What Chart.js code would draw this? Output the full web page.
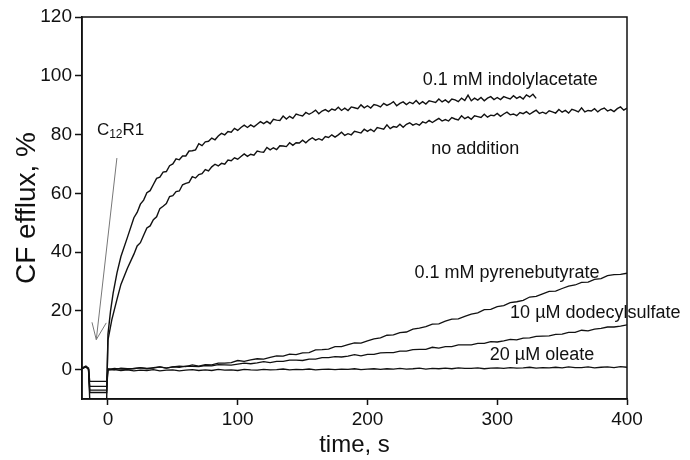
<!DOCTYPE html>
<html>
<head>
<meta charset="utf-8">
<script src="https://cdn.jsdelivr.net/npm/chart.js@4"></script>
<style>
  html, body { margin: 0; padding: 0; background: #fff; }
  #wrap { width: 690px; height: 460px; }
</style>
</head>
<body>
<div id="wrap"><canvas id="efflux-chart" width="690" height="460"></canvas></div>
<script>
// time (s) and CF efflux (%)
var indolylTime = [-20, -17, -15, -14, -1, 0, 2, 4, 7, 10, 15,
    20, 22.5, 25, 27.5, 30, 32.5, 35, 37.5, 40, 42.5, 45, 47.5, 50, 52.5, 55, 57.5, 60, 62.5, 65, 67.5, 70, 72.5, 75, 77.5, 80, 82.5, 85, 87.5, 90, 92.5, 95, 97.5,
    100, 102.5, 105, 107.5, 110, 112.5, 115, 117.5, 120, 122.5, 125, 127.5, 130, 132.5, 135, 137.5, 140, 142.5, 145, 147.5, 150, 152.5, 155, 157.5, 160, 162.5, 165, 167.5, 170, 172.5, 175, 177.5, 180, 182.5, 185, 187.5, 190, 192.5, 195, 197.5,
    200, 202.5, 205, 207.5, 210, 212.5, 215, 217.5, 220, 222.5, 225, 227.5, 230, 232.5, 235, 237.5, 240, 242.5, 245, 247.5, 250, 252.5, 255, 257.5, 260, 262.5, 265, 267.5, 270, 272.5, 275, 277.5, 280, 282.5, 285, 287.5, 290, 292.5, 295, 297.5,
    300, 302.5, 305, 307.5, 310, 312.5, 315, 317.5, 320, 322.5, 325, 327.5, 330];
var indolylCF = [0.5, 1.2, 0.5, -10.5, -10.5, 12, 20, 26, 33, 38.5, 45,
    51.7, 53.5, 56.3, 57.7, 60.2, 60.9, 63.0, 65.1, 65.5, 67.2, 67.4, 69.4, 70.0, 71.7, 71.4, 72.7, 72.7, 74.4, 74.5, 74.8, 76.9, 76.2, 77.5, 77.7, 78.8, 78.2, 79.5, 80.4, 79.9, 81.0, 80.8, 82.1,
    81.4, 82.4, 83.2, 82.4, 83.3, 82.6, 83.5, 84.4, 83.7, 84.5, 83.7, 85.2, 84.9, 84.8, 86.3, 85.3, 86.2, 85.5, 87.0, 86.6, 86.3, 87.5, 86.9, 87.5, 88.3, 87.1, 88.0, 88.5, 87.8, 88.7, 88.3, 89.3, 88.2, 89.0, 88.2, 89.4, 89.1, 88.8, 90.1, 89.1,
    89.8, 89.0, 90.2, 89.9, 89.4, 90.6, 89.9, 90.4, 91.2, 89.8, 90.6, 91.1, 90.2, 91.0, 90.5, 91.6, 90.4, 91.2, 90.4, 91.5, 91.2, 90.9, 92.1, 91.1, 91.8, 90.9, 92.1, 91.8, 91.2, 92.4, 91.6, 93.4, 91.5, 92.4, 91.7, 92.6, 91.5, 92.4, 92.9, 91.9,
    92.6, 91.9, 92.9, 92.5, 92.1, 93.2, 92.3, 92.9, 92.1, 93.5, 92.8, 93.7, 92.3];

var noAddTime = [-20, -17, -15, -14, -1, 0, 3, 7, 10, 15,
    20, 22.5, 25, 27.5, 30, 32.5, 35, 37.5, 40, 42.5, 45, 47.5, 50, 52.5, 55, 57.5, 60, 62.5, 65, 67.5, 70, 72.5, 75, 77.5, 80, 82.5, 85, 87.5, 90, 92.5, 95, 97.5,
    100, 102.5, 105, 107.5, 110, 112.5, 115, 117.5, 120, 122.5, 125, 127.5, 130, 132.5, 135, 137.5, 140, 142.5, 145, 147.5, 150, 152.5, 155, 157.5, 160, 162.5, 165, 167.5, 170, 172.5, 175, 177.5, 180, 182.5, 185, 187.5, 190, 192.5, 195, 197.5,
    200, 202.5, 205, 207.5, 210, 212.5, 215, 217.5, 220, 222.5, 225, 227.5, 230, 232.5, 235, 237.5, 240, 242.5, 245, 247.5, 250, 252.5, 255, 257.5, 260, 262.5, 265, 267.5, 270, 272.5, 275, 277.5, 280, 282.5, 285, 287.5, 290, 292.5, 295, 297.5,
    300, 302.5, 305, 307.5, 310, 312.5, 315, 317.5, 320, 322.5, 325, 327.5, 330, 332.5, 335, 337.5, 340, 342.5, 345, 347.5, 350, 352.5, 355, 357.5, 360, 362.5, 365, 367.5, 370, 372.5, 375, 377.5, 380, 382.5, 385, 387.5, 390, 392.5, 395, 397.5, 400];
var noAddCF = [0.5, 1, 0.3, -7.8, -7.8, 10, 17, 24, 29, 34.5,
    39.3, 42.1, 43.2, 45.7, 48.2, 48.9, 51.0, 52.0, 54.8, 55.6, 56.5, 58.9, 59.2, 60.6, 60.8, 62.9, 63.4, 63.7, 65.7, 65.2, 66.4, 66.7, 68.1, 67.6, 69.0, 69.9, 69.3, 70.2, 69.9, 71.3, 71.1, 72.1,
    71.6, 72.5, 73.4, 72.6, 73.3, 73.0, 74.4, 74.1, 74.0, 75.6, 74.8, 75.5, 74.9, 76.2, 76.1, 75.9, 77.2, 76.3, 77.2, 77.1, 78.1, 77.2, 78.2, 78.9, 78.1, 78.6, 78.1, 79.3, 79.0, 79.9, 79.1, 79.9, 80.8, 79.7, 80.3, 79.9, 81.1, 80.8, 80.5, 81.8,
    81.1, 81.8, 81.0, 82.4, 82.1, 81.8, 83.3, 82.0, 82.7, 82.5, 83.5, 82.5, 83.5, 84.0, 83.2, 83.7, 83.2, 84.3, 83.9, 84.8, 84.1, 84.8, 85.5, 84.6, 85.1, 84.6, 85.8, 85.3, 85.0, 86.4, 85.4, 86.0, 85.2, 86.4, 86.1, 85.8, 86.9, 85.9, 86.6, 86.4,
    87.2, 86.2, 87.0, 87.6, 86.7, 87.0, 86.4, 87.5, 87.1, 87.8, 86.9, 87.6, 88.3, 87.2, 87.6, 87.1, 88.1, 87.7, 87.3, 88.5, 87.6, 88.2, 87.3, 88.6, 88.2, 87.7, 89.1, 87.7, 88.2, 88.0, 88.8, 87.7, 88.6, 89.0, 88.0, 88.5, 87.8, 88.8, 89.4, 88.3, 89.0];

var slowTime = [-20, -17, -15, -14, -1,
    0, 5, 10, 15, 20, 25, 30, 35, 40, 45, 50, 55, 60, 65, 70, 75, 80, 85, 90, 95,
    100, 105, 110, 115, 120, 125, 130, 135, 140, 145, 150, 155, 160, 165, 170, 175, 180, 185, 190, 195,
    200, 205, 210, 215, 220, 225, 230, 235, 240, 245, 250, 255, 260, 265, 270, 275, 280, 285, 290, 295,
    300, 305, 310, 315, 320, 325, 330, 335, 340, 345, 350, 355, 360, 365, 370, 375, 380, 385, 390, 395, 400];
var pyreneCF = [0.3, 1, 0.2, -4, -4,
    0.3, 0.0, 0.5, 0.3, 0.3, 0.7, 0.3, 0.7, 0.9, 0.5, 0.9, 1.2, 1.0, 1.6, 1.2, 1.7, 1.6, 2.2, 2.2, 2.4,
    3.1, 2.8, 3.3, 3.7, 3.6, 4.2, 4.7, 4.6, 5.3, 5.1, 5.7, 5.8, 6.7, 6.8, 7.0, 7.8, 7.8, 8.5, 9.1, 9.0,
    9.8, 10.5, 10.8, 11.7, 11.8, 12.6, 12.8, 13.8, 14.1, 14.6, 15.5, 15.6, 16.5, 17.2, 17.3, 18.1, 18.9, 19.3, 20.4, 20.5,
    21.4, 21.8, 22.8, 23.1, 23.6, 24.7, 24.9, 25.8, 26.6, 26.7, 27.6, 28.4, 28.8, 29.7, 29.8, 30.7, 31.0, 32.0, 32.3, 32.4, 32.8];
var dodecylCF = [0.3, 1, 0.2, -5.7, -5.7,
    0.0, 0.4, 0.2, 0.1, 0.4, 0.6, 0.4, 0.5, 0.9, 0.5, 0.9, 0.8, 1.2, 1.1, 1.0, 1.4, 1.3, 1.7, 1.6, 1.5,
    1.9, 2.2, 2.0, 2.3, 2.7, 2.4, 2.8, 2.8, 3.2, 3.2, 3.1, 3.6, 3.6, 4.1, 4.1, 4.4, 4.3, 4.6, 5.1, 4.7,
    5.2, 5.2, 5.7, 5.8, 5.8, 6.3, 6.3, 6.8, 6.9, 6.9, 7.6, 7.3, 7.8, 7.8, 8.4, 8.4, 8.4, 8.9, 8.9, 9.5,
    9.4, 9.8, 10.3, 10.1, 10.7, 10.8, 11.3, 11.4, 11.5, 12.0, 12.1, 12.7, 12.7, 13.4, 13.2, 13.8, 14.0, 14.5, 14.5, 14.8, 15.2];
var oleateCF = [0.3, 1, 0.2, -7, -7,
    -0.2, 0.0, -0.3, -0.1, -0.4, -0.2, -0.3, 0.0, -0.4, -0.2, -0.1, -0.4, -0.2, 0.0, -0.3, -0.1, -0.3, 0.1, -0.2, -0.1,
    -0.3, 0.1, -0.1, -0.2, 0.1, -0.1, 0.0, 0.2, -0.1, 0.1, 0.0, 0.2, -0.1, 0.1, 0.2, 0.0, 0.2, 0.1, 0.3, 0.0,
    0.2, 0.3, 0.1, 0.3, 0.2, 0.4, 0.2, 0.3, 0.5, 0.2, 0.4, 0.3, 0.5, 0.3, 0.6, 0.4, 0.4, 0.6, 0.3, 0.5,
    0.6, 0.4, 0.7, 0.5, 0.6, 0.8, 0.5, 0.7, 0.6, 0.8, 0.6, 0.9, 0.7, 0.7, 0.9, 0.6, 0.8, 0.9, 0.7, 1.0, 0.8];

var xTicks = [0, 100, 200, 300, 400];
var yTicks = [0, 20, 40, 60, 80, 100, 120];

var FONT = '"Liberation Sans", Arial, sans-serif';

function pts(t, v) {
    return t.map(function (x, i) { return { x: x, y: v[i] }; });
}

function trace(label, t, v, w) {
    return {
        label: label,
        data: pts(t, v),
        borderColor: '#111',
        borderWidth: w,
        pointRadius: 0,
        tension: 0,
        fill: false
    };
}

// curve labels, positioned in data units
var notes = [
    { text: '0.1 mM indolylacetate', x: 310, y: 98.7 },
    { text: 'no addition', x: 283, y: 75 },
    { text: '0.1 mM pyrenebutyrate', x: 307.5, y: 32.8 },
    { text: '10 \u00b5M dodecylsulfate', x: 375.6, y: 19.3 },
    { text: '20 \u00b5M oleate', x: 334.5, y: 4.8 }
];

var extras = {
    id: 'extras',
    afterDatasetsDraw: function (chart) {
        var c = chart.ctx, xs = chart.scales.x, ys = chart.scales.y, a = chart.chartArea;
        function px(x) { return xs.getPixelForValue(x); }
        function py(y) { return ys.getPixelForValue(y); }
        c.save();
        // frame
        c.strokeStyle = '#111';
        c.lineWidth = 1.5;
        c.strokeRect(a.left, a.top, a.right - a.left, a.bottom - a.top);

        // C12R1 arrow
        c.strokeStyle = '#777';
        c.lineWidth = 1;
        c.beginPath();
        c.moveTo(px(6.9), py(72));
        c.lineTo(px(-9), py(10.2));
        c.moveTo(px(-12.3), py(16.1));
        c.lineTo(px(-9), py(10.2));
        c.lineTo(px(-1.3), py(15.9));
        c.stroke();

        c.fillStyle = '#111';
        c.textBaseline = 'middle';
        c.font = '18px ' + FONT;
        c.textAlign = 'center';
        notes.forEach(function (n) {
            c.fillText(n.text, px(n.x), py(n.y));
        });

        // C12R1 with subscript
        c.textAlign = 'left';
        c.font = '17px ' + FONT;
        var x0 = px(-8.5), y0 = py(81.5);
        c.fillText('C', x0, y0);
        var w = c.measureText('C').width;
        c.font = '12px ' + FONT;
        c.fillText('12', x0 + w, y0 + 5);
        var w2 = c.measureText('12').width;
        c.font = '17px ' + FONT;
        c.fillText('R1', x0 + w + w2, y0);
        c.restore();
    }
};

var ctx = document.getElementById('efflux-chart').getContext('2d');
var effluxChart = new Chart(ctx, {
    type: 'line',
    data: {
        datasets: [
            trace('0.1 mM indolylacetate', indolylTime, indolylCF, 1.4),
            trace('no addition', noAddTime, noAddCF, 1.4),
            trace('0.1 mM pyrenebutyrate', slowTime, pyreneCF, 1.3),
            trace('10 \u00b5M dodecylsulfate', slowTime, dodecylCF, 1.3),
            trace('20 \u00b5M oleate', slowTime, oleateCF, 1.3)
        ]
    },
    options: {
        responsive: false,
        animation: false,
        layout: { padding: { top: 17, right: 63, left: 0, bottom: 0 } },
        plugins: {
            legend: { display: false },
            tooltip: { enabled: false }
        },
        scales: {
            x: {
                type: 'linear',
                min: -20,
                max: 400,
                afterBuildTicks: function (s) { s.ticks = xTicks.map(function (v) { return { value: v }; }); },
                afterFit: function (s) { s.height = 61; },
                grid: { drawOnChartArea: false, drawTicks: true, tickLength: 6, tickColor: '#111', tickWidth: 1.5 },
                border: { color: '#111', width: 1.5 },
                ticks: { color: '#111', padding: 3, maxRotation: 0, font: { size: 19, family: FONT } },
                title: { display: true, text: 'time, s', color: '#111', padding: { top: 0, bottom: 0 }, font: { size: 24, family: FONT } }
            },
            y: {
                min: -10,
                max: 120,
                afterBuildTicks: function (s) { s.ticks = yTicks.map(function (v) { return { value: v }; }); },
                afterFit: function (s) { s.width = 82; },
                grid: { drawOnChartArea: false, drawTicks: true, tickLength: 7, tickColor: '#111', tickWidth: 1.5 },
                border: { color: '#111', width: 1.5 },
                ticks: { color: '#111', padding: 3, font: { size: 19, family: FONT } },
                title: { display: true, text: 'CF efflux, %', color: '#111', padding: { top: 10, bottom: 0 }, font: { size: 28, family: FONT } }
            }
        }
    },
    plugins: [extras]
});
</script>
</body>
</html>
